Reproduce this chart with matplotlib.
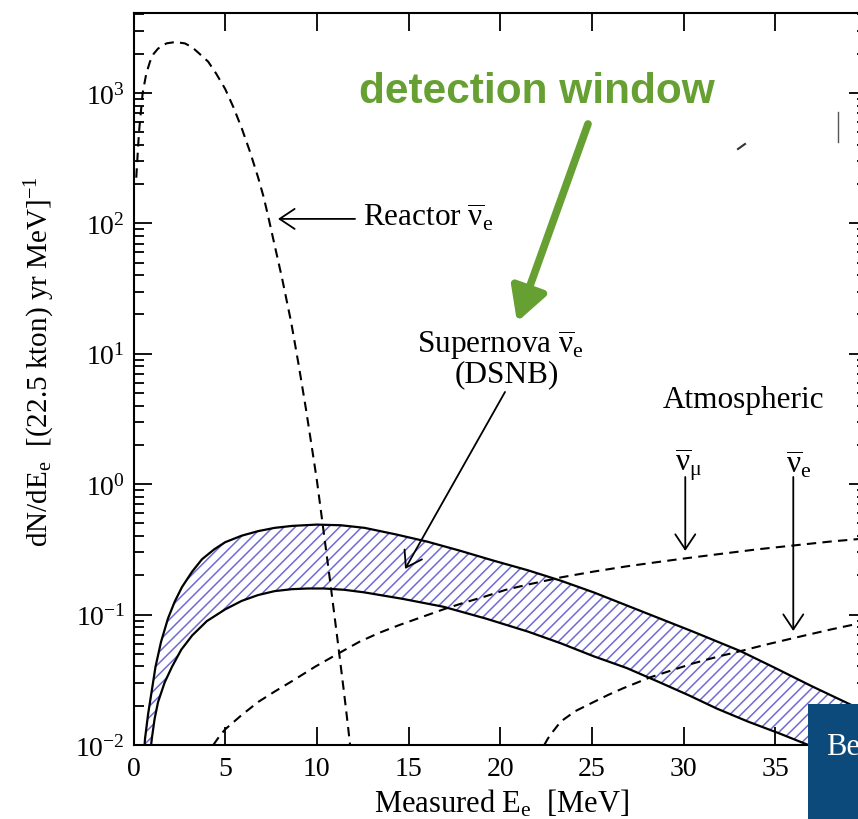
import numpy as np
import matplotlib
matplotlib.use("Agg")
import matplotlib.pyplot as plt
from matplotlib.patches import Rectangle
from matplotlib.lines import Line2D

plt.rcParams['font.family'] = ['Liberation Serif', 'DejaVu Serif']
plt.rcParams['mathtext.fontset'] = 'custom'
plt.rcParams['mathtext.rm'] = 'Liberation Serif'
plt.rcParams['mathtext.it'] = 'Liberation Serif:italic'
plt.rcParams['mathtext.bf'] = 'Liberation Serif:bold'
plt.rcParams['mathtext.default'] = 'rm'
plt.rcParams['axes.unicode_minus'] = False
plt.rcParams['hatch.linewidth'] = 1.1

# values: energy [MeV] and log10(dN/dE)
reactor_E = [0.15, 0.3, 0.5, 0.7, 0.9, 1.1, 1.34, 1.8, 2.27, 2.8, 3.2, 3.6, 4.07, 4.5, 5.0, 5.45,
             5.9, 6.35, 6.8, 7.1, 7.35, 7.7, 8.1, 8.6, 9.0, 9.4, 9.74, 10.0, 10.3, 10.7, 11.15,
             11.5, 11.7, 11.85]
reactor_log = [2.35, 2.7, 3.0, 3.15, 3.24, 3.30, 3.34, 3.38, 3.39, 3.38, 3.35, 3.30, 3.24, 3.15,
               3.03, 2.89, 2.73, 2.55, 2.35, 2.20, 2.05, 1.83, 1.58, 1.24, 0.92, 0.58, 0.27, 0.03,
               -0.29, -0.72, -1.22, -1.62, -1.86, -2.05]

dsnb_up_E = [0.45, 0.63, 0.8, 1.0, 1.2, 1.5, 1.88, 2.25, 2.64, 3.2, 3.74, 4.4, 5.0, 5.9, 6.8, 7.7,
             8.65, 10.0, 11.3, 12.6, 14.3, 16.0, 17.8, 19.6, 21.5, 23.3, 25.1, 26.9, 28.7, 30.5,
             33.1, 35.0, 37.0, 38.5, 40.0]
dsnb_up_log = [-2.3, -1.95, -1.76, -1.58, -1.40, -1.21, -1.03, -0.90, -0.79, -0.67, -0.575, -0.50,
               -0.445, -0.395, -0.36, -0.335, -0.32, -0.31, -0.315, -0.335, -0.385, -0.44, -0.51,
               -0.585, -0.66, -0.74, -0.83, -0.93, -1.03, -1.13, -1.28, -1.41, -1.55, -1.65, -1.75]

dsnb_lo_E = [0.8, 1.0, 1.15, 1.34, 1.7, 2.1, 2.6, 3.2, 4.0, 5.0, 5.9, 6.8, 7.7, 8.65, 9.5, 10.4,
             11.5, 12.6, 14.7, 16.9, 19.2, 21.5, 23.3, 25.1, 26.9, 28.7, 30.3, 31.8, 33.5, 35.2,
             36.8, 38.5, 40.0]
dsnb_lo_log = [-2.2, -1.95, -1.80, -1.67, -1.52, -1.40, -1.27, -1.16, -1.05, -0.96, -0.895, -0.85,
               -0.82, -0.805, -0.80, -0.80, -0.81, -0.83, -0.88, -0.94, -1.03, -1.13, -1.22, -1.32,
               -1.41, -1.52, -1.62, -1.72, -1.82, -1.91, -2.0, -2.1, -2.2]

atm_mu_E = [4.35, 4.7, 5.0, 5.9, 6.8, 7.7, 8.65, 9.9, 11.15, 12.3, 13.4, 14.5, 15.7, 16.9, 18.0,
            19.2, 20.3, 21.5, 23.3, 25.1, 26.9, 28.7, 30.3, 32.0, 34.0, 36.0, 38.0, 40.0]
atm_mu_log = [-2.0, -1.93, -1.88, -1.77, -1.67, -1.59, -1.51, -1.40, -1.30, -1.21, -1.14, -1.08,
              -1.02, -0.96, -0.91, -0.86, -0.81, -0.77, -0.715, -0.67, -0.63, -0.595, -0.565,
              -0.535, -0.50, -0.47, -0.44, -0.415]

atm_e_E = [22.4, 22.6, 22.8, 23.3, 24.1, 25.1, 25.9, 26.7, 28.2, 29.3, 30.5, 31.8, 33.1, 34.5,
           36.0, 38.0, 40.0]
atm_e_log = [-2.0, -1.95, -1.91, -1.82, -1.74, -1.67, -1.615, -1.565, -1.48, -1.43, -1.375,
             -1.325, -1.28, -1.23, -1.18, -1.115, -1.055]

x_ticks = [0, 5, 10, 15, 20, 25, 30, 35, 40]

W, H = 858, 820
fig = plt.figure(figsize=(W / 100, H / 100), dpi=100)
ax = fig.add_axes([133.5 / W, (H - 746) / H, (867 - 133.5) / W, (746 - 14) / H])

def v(a):
    return 10 ** np.array(a)

# DSNB band
poly_E = np.concatenate([dsnb_up_E, dsnb_lo_E[::-1]])
poly_y = np.concatenate([v(dsnb_up_log), v(dsnb_lo_log)[::-1]])
ax.fill(poly_E, poly_y, facecolor='white', edgecolor='#6c6cd4', hatch='///', linewidth=0, zorder=1)
ax.plot(dsnb_up_E, v(dsnb_up_log), color='black', lw=1.6, zorder=3)
ax.plot(dsnb_lo_E, v(dsnb_lo_log), color='black', lw=1.6, zorder=3)

dash = dict(color='black', lw=1.5, ls=(0, (4.5, 3)), zorder=4)
ax.plot(reactor_E, v(reactor_log), **dash)
ax.plot(atm_mu_E, v(atm_mu_log), **dash)
ax.plot(atm_e_E, v(atm_e_log), **dash)

ax.set_xlim(0, 40)
ax.set_ylim(1e-2, 4100)
ax.set_yscale('log')
ax.set_xticks(x_ticks)
ax.set_xticklabels([str(t) for t in x_ticks])

for s in ax.spines.values():
    s.set_linewidth(1.5)
ax.tick_params(which='both', direction='in', top=True, right=True, labelsize=20, width=1.3)
ax.tick_params(which='major', length=13)
ax.tick_params(which='minor', length=7)
ax.tick_params(axis='x', pad=8)
ax.tick_params(axis='y', pad=6)

ax.set_xlabel(r'Measured E$_{e}$  [MeV]', fontsize=22)
ax.xaxis.set_label_coords(0.501, -0.057)
ax.set_ylabel(r'dN/dE$_{e}$  [(22.5 kton) yr MeV]$^{-1}$', fontsize=21)
ax.yaxis.set_label_coords(-0.104, 0.525)

fs = 22.5
arr = dict(arrowstyle='->,head_length=1.08,head_width=0.72', mutation_scale=10,
           color='black', lw=1.3, shrinkA=0, shrinkB=0)

ax.text(12.52, 10 ** 2.049, r'Reactor $\overline{\nu}_{e}$', fontsize=fs, ha='left', va='center')
ax.annotate('', xy=(7.88, 10 ** 2.034), xytext=(12.08, 10 ** 2.034), arrowprops=arr)

ax.text(20.0, 10 ** 1.075, r'Supernova $\overline{\nu}_{e}$', fontsize=fs, ha='center', va='center')
ax.text(20.35, 10 ** 0.845, '(DSNB)', fontsize=fs, ha='center', va='center')
ax.annotate('', xy=(14.81, 10 ** -0.65), xytext=(20.26, 10 ** 0.707), arrowprops=arr)

ax.text(33.25, 10 ** 0.653, 'Atmospheric', fontsize=fs, ha='center', va='center')
ax.text(30.25, 10 ** 0.155, r'$\overline{\nu}_{\mu}$', fontsize=fs, ha='center', va='center')
ax.text(36.25, 10 ** 0.155, r'$\overline{\nu}_{e}$', fontsize=fs, ha='center', va='center')
ax.annotate('', xy=(30.09, 10 ** -0.512), xytext=(30.09, 10 ** 0.055), arrowprops=arr)
ax.annotate('', xy=(35.98, 10 ** -1.126), xytext=(35.98, 10 ** 0.055), arrowprops=arr)

# slide overlay: green label and arrow
green = '#66a032'
fig.text(537 / W, (H - 92) / H, 'detection window', color=green, fontsize=30.5, fontweight='bold',
         family='Liberation Sans', ha='center', va='center')
ax.annotate('', xy=(517, H - 323), xycoords='figure pixels', xytext=(588, H - 125),
            textcoords='figure pixels',
            arrowprops=dict(arrowstyle='-|>,head_length=2.0,head_width=1.1', mutation_scale=10,
                            lw=5.5, color=green, shrinkA=0, shrinkB=0))

# stray marks on the slide
fig.add_artist(Line2D([738 / W, 745 / W], [(H - 150) / H, (H - 145) / H], color='#333333', lw=1.5))
fig.add_artist(Line2D([838 / W, 838 / W], [(H - 113) / H, (H - 143) / H], color='#555555', lw=1.0))

# slide box bottom right
fig.add_artist(Rectangle((808 / W, 0), 60 / W, 115 / H, transform=fig.transFigure,
                         facecolor='#0b4a7b', edgecolor='none', zorder=10))
fig.text(826 / W, (H - 748) / H, 'Be', color='white', fontsize=22, ha='left', va='center', zorder=11)

fig.savefig('out.png', dpi=100)
